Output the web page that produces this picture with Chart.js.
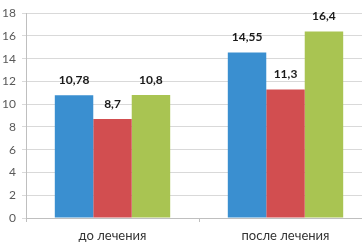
<!DOCTYPE html>
<html>
<head>
<meta charset="utf-8">
<script src="https://cdn.jsdelivr.net/npm/chart.js@4/dist/chart.umd.min.js"></script>
<style>
  html, body { margin: 0; padding: 0; background: #fff; overflow: hidden; }
  #wrap { position: relative; width: 372px; height: 244px; }
</style>
</head>
<body>
<div id="wrap"><canvas id="chart"></canvas></div>
<script>
// Данные графика
const categories = ['до лечения', 'после лечения'];
const seriesBlue = [10.78, 14.55];
const seriesRed = [8.7, 11.3];
const seriesGreen = [10.8, 16.4];
const valueLabels = [['10,78', '14,55'], ['8,7', '11,3'], ['10,8', '16,4']];

const FONT = 'Lato, "Open Sans", sans-serif';

// Подписи значений над столбцами
const valueLabelPlugin = {
    id: 'valueLabels',
    afterDatasetsDraw(chart) {
        const ctx = chart.ctx;
        ctx.save();
        ctx.font = 'bold 12px ' + FONT;
        ctx.fillStyle = '#1a1a1a';
        ctx.textAlign = 'center';
        ctx.textBaseline = 'middle';
        chart.data.datasets.forEach((ds, i) => {
            chart.getDatasetMeta(i).data.forEach((bar, j) => {
                ctx.fillText(valueLabels[i][j], bar.x, bar.y - 15);
            });
        });
        ctx.restore();
    }
};

new Chart(document.getElementById('chart'), {
    type: 'bar',
    data: {
        labels: categories,
        datasets: [
            { data: seriesBlue, backgroundColor: '#3a8fd0' },
            { data: seriesRed, backgroundColor: '#d24e50' },
            { data: seriesGreen, backgroundColor: '#a9c452' }
        ]
    },
    options: {
        responsive: true,
        maintainAspectRatio: false,
        animation: false,
        layout: { padding: { top: 4, right: 0, left: 0, bottom: 0 } },
        categoryPercentage: 0.667,
        barPercentage: 1,
        plugins: {
            legend: { display: false },
            tooltip: { enabled: false }
        },
        scales: {
            x: {
                grid: { display: true, drawOnChartArea: false, offset: true, tickLength: 4, color: '#bfbfbf' },
                border: { color: '#bfbfbf' },
                ticks: { color: '#333', font: { family: FONT, size: 13 }, padding: 6 },
                afterFit(scale) { scale.height = 26; }
            },
            y: {
                min: 0,
                max: 18,
                ticks: { stepSize: 2, color: '#595959', font: { family: FONT, size: 12 }, padding: 6 },
                grid: { color: '#d9d9d9', tickLength: 4 },
                border: { color: '#bfbfbf' },
                afterFit(scale) { scale.width = 26; }
            }
        }
    },
    plugins: [valueLabelPlugin]
});
</script>
</body>
</html>
